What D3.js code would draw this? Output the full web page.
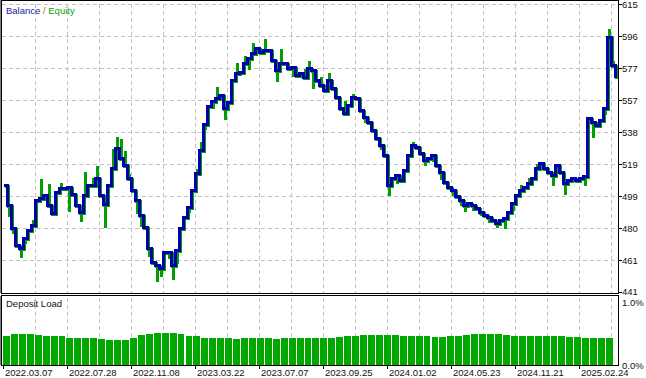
<!DOCTYPE html>
<html>
<head>
<meta charset="utf-8">
<script src="https://cdn.jsdelivr.net/npm/d3@7"></script>
<style>
  body { margin: 0; background: #fff; }
  svg text { font-family: 'Liberation Sans', Arial, sans-serif; font-size: 9.5px; }
</style>
</head>
<body>
<div class="chart"></div>
<script>
const balance = [
  505.6, 493.6, 479.7, 469.4, 467.6, 473.6, 478.5, 481.5, 496.6, 497.8,
  499.6, 493.6, 488.7, 501.4, 503.8, 503.8, 504.4, 500.2, 493.6, 489.3,
  499.6, 505.6, 505.6, 509.9, 499.6, 494.2, 505.6, 515.9, 528.0, 522.0,
  517.7, 509.9, 502.6, 496.6, 487.5, 480.3, 467.6, 459.1, 457.3, 455.5,
  465.2, 465.2, 457.3, 466.4, 479.7, 486.3, 492.4, 502.6, 512.9, 526.8,
  542.5, 553.4, 556.4, 558.2, 560.0, 552.2, 555.8, 569.1, 573.3, 573.9,
  579.4, 582.4, 585.4, 588.4, 586.0, 587.2, 587.2, 581.2, 575.1, 579.4,
  579.4, 576.3, 576.9, 572.1, 573.3, 570.9, 576.3, 575.1, 569.1, 566.1,
  563.0, 569.1, 564.2, 558.8, 552.2, 549.1, 554.0, 558.8, 558.2, 551.0,
  546.7, 543.7, 538.9, 534.0, 529.8, 523.8, 505.6, 509.9, 511.7, 508.7,
  514.7, 523.8, 529.8, 528.6, 525.0, 520.7, 522.0, 523.8, 517.7, 513.5,
  507.5, 504.4, 502.6, 499.0, 496.6, 493.6, 494.8, 493.6, 491.7, 489.3,
  487.5, 486.3, 484.5, 482.7, 484.5, 485.7, 489.3, 494.8, 499.6, 502.6,
  504.4, 506.9, 509.9, 515.9, 518.9, 515.9, 513.5, 511.7, 517.7, 513.5,
  506.9, 508.7, 509.9, 508.7, 509.9, 511.1, 546.1, 543.7, 541.9, 544.9,
  552.2, 595.1, 578.1, 570.9
];

const equity = [
  505.6, 487.5, 477.3, 469.4, 462.8, 471.0, 478.5, 484.0, 496.6, 508.7,
  499.6, 505.6, 488.7, 501.4, 506.0, 503.8, 490.5, 500.2, 493.6, 484.5,
  512.9, 505.6, 509.0, 516.5, 499.6, 480.9, 505.6, 526.8, 534.0, 532.8,
  525.6, 511.7, 502.6, 489.3, 481.5, 480.3, 463.4, 459.1, 448.3, 451.3,
  465.2, 462.0, 449.5, 459.1, 479.7, 486.3, 490.0, 502.6, 515.0, 531.0,
  540.1, 553.4, 553.0, 564.2, 560.0, 546.1, 555.8, 569.1, 578.5, 573.9,
  583.0, 576.3, 591.0, 588.4, 586.0, 593.0, 587.2, 581.2, 569.1, 587.0,
  579.4, 576.3, 572.0, 572.1, 573.3, 575.0, 580.0, 565.0, 569.1, 570.0,
  563.0, 573.0, 564.2, 558.8, 552.2, 556.0, 554.0, 560.0, 558.2, 551.0,
  544.0, 543.7, 538.9, 534.0, 528.0, 523.8, 500.0, 509.9, 507.5, 508.7,
  514.7, 523.8, 531.0, 528.6, 525.0, 518.0, 522.0, 521.0, 517.7, 510.0,
  507.5, 504.4, 500.0, 499.0, 494.0, 490.5, 494.8, 491.0, 491.7, 488.0,
  487.5, 484.0, 484.5, 481.0, 484.5, 480.0, 489.3, 491.0, 499.6, 505.0,
  504.4, 509.0, 509.9, 518.0, 518.9, 515.9, 513.5, 506.0, 517.7, 513.5,
  501.0, 508.7, 509.9, 508.7, 509.9, 506.0, 546.1, 535.0, 541.9, 544.9,
  549.0, 599.0, 580.0, 570.9
];

const depositLoad = [
  0.45, 0.48, 0.48, 0.47, 0.46, 0.44, 0.44, 0.44, 0.42, 0.42,
  0.41, 0.41, 0.40, 0.39, 0.38, 0.39, 0.42, 0.46, 0.48, 0.49,
  0.50, 0.49, 0.47, 0.45, 0.44, 0.42, 0.42, 0.42, 0.41, 0.40,
  0.41, 0.41, 0.41, 0.41, 0.40, 0.41, 0.41, 0.41, 0.41, 0.41,
  0.42, 0.42, 0.43, 0.44, 0.45, 0.46, 0.46, 0.46, 0.46, 0.46,
  0.45, 0.44, 0.44, 0.44, 0.43, 0.43, 0.44, 0.45, 0.46, 0.47,
  0.47, 0.47, 0.47, 0.46, 0.45, 0.45, 0.44, 0.44, 0.44, 0.44,
  0.44, 0.43, 0.43, 0.42, 0.42, 0.42, 0.41
];

const valueTicks = [441, 461, 480, 499, 519, 538, 557, 577, 596, 615];
const loadTicks = ['1.0%', '0.0%'];
const dateLabels = [
  '2022.03.07', '2022.07.28', '2022.11.08', '2023.03.22', '2023.07.07',
  '2023.09.25', '2024.01.02', '2024.05.23', '2024.11.21', '2025.02.24'
];

const BLUE = '#0000b0';
const GREEN = '#00a000';
const GRID = '#c3c3c3';

const width = 646;
const height = 378;
const left = 2;
const right = 618;
const top1 = 4;
const bottom1 = 292;
const top2 = 296;
const bottom2 = 365;

const svg = d3
  .select('.chart')
  .append('svg')
  .attr('width', width)
  .attr('height', height);

const x = d3.scaleLinear().domain([0, balance.length - 1]).range([3, 615]);
const y = d3.scaleLinear().domain([441, 615]).range([bottom1, top1]);
const tickY = d3.scaleLinear().domain([0, valueTicks.length - 1]).range([bottom1, top1]);
const yLoad = d3.scaleLinear().domain([0, 1]).range([bottom2, 300]);
const xBar = d3
  .scaleBand()
  .domain(d3.range(depositLoad.length))
  .range([3, 613])
  .paddingInner(0.13);
const xDate = d3.scalePoint().domain(dateLabels).range([3, 579]);

// grid
svg
  .append('g')
  .selectAll('line')
  .data(d3.range(35, right, 32))
  .enter()
  .append('line')
  .attr('x1', d => d + 0.5)
  .attr('x2', d => d + 0.5)
  .attr('y1', top1)
  .attr('y2', bottom2)
  .attr('stroke', GRID)
  .attr('stroke-dasharray', '4,3');

svg
  .append('g')
  .selectAll('line')
  .data(valueTicks.slice(1))
  .enter()
  .append('line')
  .attr('x1', left)
  .attr('x2', right)
  .attr('y1', (d, i) => Math.round(tickY(i + 1)) + 0.5)
  .attr('y2', (d, i) => Math.round(tickY(i + 1)) + 0.5)
  .attr('stroke', GRID)
  .attr('stroke-dasharray', '4,3');

svg
  .append('rect')
  .attr('x', left)
  .attr('y', bottom1 + 1)
  .attr('width', right - left)
  .attr('height', top2 - bottom1 - 1)
  .attr('fill', '#fff');

// equity spikes, then balance on top
const curves = svg.append('g').attr('shape-rendering', 'crispEdges');

curves
  .append('g')
  .selectAll('rect')
  .data(equity)
  .enter()
  .append('rect')
  .attr('x', (d, i) => Math.round(x(i)) + 1)
  .attr('width', 3)
  .attr('y', (d, i) => Math.round(Math.min(y(d), y(balance[i]))) - 1)
  .attr('height', (d, i) => Math.round(Math.abs(y(d) - y(balance[i]))) + 3)
  .attr('fill', GREEN);

const line = d3
  .line()
  .x((d, i) => Math.round(x(i)) + 0.5)
  .y(d => Math.round(y(d)) + 0.5)
  .curve(d3.curveStepAfter);

curves
  .append('path')
  .datum(balance)
  .attr('d', line)
  .attr('transform', 'translate(1,1)')
  .attr('fill', 'none')
  .attr('stroke', GREEN)
  .attr('stroke-width', 3);

curves
  .append('path')
  .datum(balance)
  .attr('d', line)
  .attr('fill', 'none')
  .attr('stroke', BLUE)
  .attr('stroke-width', 3);

// deposit load bars
svg
  .append('g')
  .attr('shape-rendering', 'crispEdges')
  .selectAll('rect')
  .data(depositLoad)
  .enter()
  .append('rect')
  .attr('x', (d, i) => xBar(i))
  .attr('width', xBar.bandwidth())
  .attr('y', d => yLoad(d))
  .attr('height', d => bottom2 - yLoad(d))
  .attr('fill', '#00a800');

// frames
const frame = svg.append('g').attr('fill', 'none').attr('stroke', '#000');
frame.append('rect').attr('x', 1.5).attr('y', 0.5).attr('width', right - 1).attr('height', bottom1 + 1);
frame.append('line').attr('x1', 1).attr('x2', 1).attr('y1', 0).attr('y2', bottom1 + 1);
frame.append('rect').attr('x', 1.5).attr('y', top2 - 0.5).attr('width', right - 1).attr('height', bottom2 - top2 + 1);
frame.append('line').attr('x1', 1).attr('x2', 1).attr('y1', top2).attr('y2', bottom2);

// right value axis
const vAxis = svg.append('g');
vAxis
  .selectAll('line')
  .data(valueTicks)
  .enter()
  .append('line')
  .attr('x1', right + 1)
  .attr('x2', right + 4)
  .attr('y1', (d, i) => Math.round(tickY(i)) + 0.5)
  .attr('y2', (d, i) => Math.round(tickY(i)) + 0.5)
  .attr('stroke', '#000');
vAxis
  .selectAll('text')
  .data(valueTicks)
  .enter()
  .append('text')
  .attr('x', 622)
  .attr('y', (d, i) => (i === 0 ? tickY(i) + 2.5 : tickY(i) + 3.5))
  .attr('fill', '#111')
  .text(d => d);

svg
  .append('g')
  .selectAll('text')
  .data(loadTicks)
  .enter()
  .append('text')
  .attr('x', 622)
  .attr('y', (d, i) => (i === 0 ? 306 : bottom2 + 3.5))
  .attr('fill', '#111')
  .text(d => d);

// date axis
const dAxis = svg.append('g');
dAxis
  .selectAll('line')
  .data(dateLabels)
  .enter()
  .append('line')
  .attr('x1', d => xDate(d) + 0.5)
  .attr('x2', d => xDate(d) + 0.5)
  .attr('y1', bottom2 + 1)
  .attr('y2', bottom2 + 4)
  .attr('stroke', '#000');
dAxis
  .selectAll('text')
  .data(dateLabels)
  .enter()
  .append('text')
  .attr('x', d => xDate(d) + 2)
  .attr('y', 376)
  .attr('fill', '#111')
  .text(d => d);

// titles
const title = svg.append('text').attr('x', 6).attr('y', 14);
title.append('tspan').attr('fill', '#1a1aa0').text('Balance');
title.append('tspan').attr('fill', '#c07000').text(' / ');
title.append('tspan').attr('fill', '#10a010').text('Equity');

svg.append('text').attr('x', 6).attr('y', 307).attr('fill', '#111').text('Deposit Load');
</script>
</body>
</html>
